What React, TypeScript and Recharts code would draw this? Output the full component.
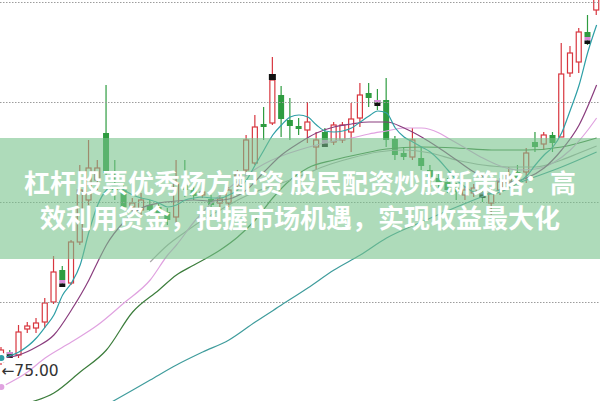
import React from 'react';
import { ComposedChart, Bar, Line, XAxis, YAxis, ReferenceLine, ReferenceDot } from 'recharts';

// daily candles, oldest first
const opens = [75.3, 76.3, 76.0, 78.6, 78.7, 79.3, 81.3, 84.5, 83.2, 87.3, 91.5, 93.5, 98.2, 93.0, 92.5, 90.8, 90.5, 91.0, 90.8, 90.3, 89.8, 93.0, 92.5, 92.0, 91.6, 91.2, 91.2, 93.0, 94.5, 95.2, 99.1, 99.2, 102.0, 99.5, 98.9, 98.5, 96.8, 98.3, 97.3, 97.5, 98.3, 99.7, 102.2, 101.5, 101.5, 97.6, 96.2, 95.8, 95.7, 94.5, 93.7, 93.3, 92.7, 92.0, 92.2, 92.3, 91.2, 92.5, 93.2, 94.3, 94.3, 97.3, 97.1, 98.0, 97.8, 104.2, 105.3, 108.3, 110.5];
const closes = [76.5, 76.0, 78.3, 78.9, 79.2, 81.2, 84.3, 83.5, 87.3, 92.5, 94.7, 94.7, 94.2, 92.5, 90.8, 91.2, 91.5, 90.5, 90.0, 89.5, 93.2, 92.5, 91.9, 92.3, 91.0, 91.6, 92.5, 94.0, 97.5, 98.8, 98.8, 103.5, 99.6, 98.9, 98.6, 99.3, 97.5, 97.5, 99.0, 99.0, 99.6, 102.0, 101.7, 101.1, 97.5, 96.0, 95.8, 97.5, 94.9, 93.8, 93.2, 92.5, 92.3, 92.5, 92.7, 91.7, 92.2, 93.3, 94.0, 93.7, 96.2, 96.8, 98.0, 97.2, 104.1, 106.2, 108.3, 107.8, 112.0];
const highs = [76.8, 76.5, 79.0, 79.3, 79.7, 81.7, 85.9, 84.9, 87.5, 95.0, 97.5, 95.5, 103.0, 95.5, 93.0, 91.7, 92.2, 91.5, 91.2, 90.7, 95.5, 95.5, 93.0, 92.7, 92.0, 92.0, 92.8, 94.5, 98.0, 100.0, 100.8, 105.8, 102.9, 101.7, 99.7, 101.3, 98.3, 98.7, 99.3, 99.3, 101.2, 103.2, 103.2, 102.6, 103.7, 97.9, 96.8, 98.7, 96.8, 95.0, 94.3, 93.7, 93.2, 92.9, 93.1, 92.7, 92.8, 93.7, 94.8, 95.0, 96.7, 98.3, 98.3, 98.3, 107.2, 106.9, 108.7, 110.0, 112.5];
const lows = [75.0, 75.7, 75.7, 78.2, 78.2, 78.7, 81.1, 83.0, 83.0, 87.0, 91.0, 92.5, 93.5, 91.5, 90.5, 90.3, 89.8, 90.0, 89.5, 89.0, 89.2, 91.8, 91.5, 91.7, 90.7, 90.8, 90.8, 92.5, 94.0, 95.0, 97.5, 99.0, 97.8, 97.5, 98.0, 97.2, 94.5, 96.8, 97.0, 97.2, 96.3, 98.8, 100.8, 100.5, 96.8, 95.5, 95.5, 95.5, 94.5, 92.8, 92.5, 92.2, 91.5, 91.5, 91.8, 91.3, 90.0, 92.0, 92.7, 93.2, 93.2, 96.3, 96.5, 96.3, 97.8, 103.8, 104.2, 107.0, 110.0];

// event flags drawn on some candles
const flagsBelow = [7, 37, 67];
const flagsTop = [31];
const flagsBody = [1, 43, 55];

// moving averages, read as [candle index, value]
const ma5: [number, number][] = [[0, 75.7], [2, 76.3], [4, 77.7], [5, 78.8], [6, 80.0], [7, 82.0], [8, 83.2], [9, 85.0], [10, 88.3], [11, 91.0], [12, 92.5], [13, 93.0], [14, 92.5], [15, 92.0], [16, 91.7], [17, 91.5], [18, 91.2], [19, 90.8], [20, 91.0], [21, 91.5], [22, 91.7], [23, 91.8], [24, 91.7], [25, 91.7], [26, 92.0], [27, 92.5], [28, 93.5], [29, 95.0], [30, 96.5], [31, 98.0], [32, 99.0], [33, 99.8], [34, 100.0], [35, 99.8], [36, 99.0], [37, 98.4], [38, 98.3], [39, 98.4], [40, 98.7], [41, 99.3], [42, 99.9], [43, 100.4], [44, 100.2], [45, 98.7], [46, 97.8], [47, 97.3], [48, 96.8], [49, 96.3], [50, 95.5], [51, 94.5], [52, 93.5], [53, 92.8], [54, 92.3], [55, 92.2], [56, 92.1], [57, 92.3], [58, 92.7], [59, 93.2], [60, 93.9], [61, 95.0], [62, 96.0], [63, 96.8], [64, 98.2], [65, 100.5], [66, 103.0], [67, 106.3], [68, 109.0]];
const ma10: [number, number][] = [[0, 75.7], [2, 76.0], [4, 76.8], [6, 78.0], [8, 80.5], [10, 83.5], [11, 85.3], [12, 87.0], [14, 89.3], [16, 90.7], [18, 91.2], [20, 91.4], [22, 91.5], [24, 91.4], [26, 91.6], [28, 92.5], [30, 94.3], [32, 96.0], [34, 97.2], [36, 98.2], [38, 98.8], [40, 99.1], [42, 99.3], [44, 99.3], [46, 98.7], [48, 97.8], [50, 96.7], [52, 95.5], [54, 94.3], [56, 93.5], [58, 93.3], [60, 93.7], [62, 94.7], [64, 96.5], [66, 99.0], [68, 103.0]];
const ma20: [number, number][] = [[0, 72.8], [3, 74.3], [5, 75.7], [8, 77.3], [11, 79.0], [14, 81.2], [17, 83.5], [19, 86.0], [20, 87.0], [22, 89.3], [24, 91.2], [26, 92.7], [28, 94.0], [30, 95.1], [32, 95.9], [34, 96.5], [36, 97.0], [38, 97.4], [40, 97.7], [42, 98.1], [44, 98.4], [46, 98.7], [48, 98.7], [50, 98.2], [51, 97.7], [53, 96.7], [55, 95.7], [57, 94.9], [59, 94.5], [61, 94.6], [63, 95.2], [65, 96.5], [67, 98.5], [68, 99.7]];
const ma30: [number, number][] = [[3, 71.2], [6, 72.2], [9, 74.3], [12, 76.5], [15, 80.3], [18, 82.5], [20, 84.0], [22, 85.0], [25, 86.5], [27, 87.8], [29, 89.5], [31, 91.7], [33, 93.5], [35, 94.7], [38, 95.5], [41, 96.1], [44, 96.6], [48, 96.8], [52, 96.7], [56, 96.5], [60, 96.5], [64, 96.8], [68, 97.7]];
const ma60: [number, number][] = [[17, 85.3], [19, 87.0], [21, 88.3], [23, 89.5], [25, 90.5], [27, 91.5], [29, 92.3], [31, 92.9], [33, 93.5], [35, 94.2], [37, 94.9], [40, 95.7], [43, 96.3], [46, 96.5], [49, 96.2], [52, 95.5], [55, 95.0], [58, 94.8], [61, 94.8], [64, 95.5], [66, 96.2], [68, 96.9]];
const ma120: [number, number][] = [[12, 71.0], [13, 71.5], [17, 73.5], [20, 75.0], [23, 76.3], [26, 77.5], [29, 79.3], [32, 81.0], [35, 82.7], [38, 84.5], [41, 86.0], [44, 87.7], [48, 89.3], [52, 90.8], [56, 92.2], [60, 93.5], [64, 94.8], [68, 96.3]];

const gridLevels = [111.25, 101.25, 91.25, 81.25];
const lowestLabel = '←75.00';
const titleLines = ['杠杆股票优秀杨方配资 股民配资炒股新策略：高', '效利用资金，把握市场机遇，实现收益最大化'];

const RED = '#d8363f';
const GREEN = '#2e9c40';

const rows: any[] = opens.map((o, i) => ({
  i,
  open: o,
  close: closes[i],
  high: highs[i],
  low: lows[i],
  range: [lows[i], highs[i]],
}));

const addSeries = (key: string, pts: [number, number][]) => {
  pts.forEach(([i, v]) => {
    rows[i][key] = v;
  });
};
addSeries('ma5', ma5);
addSeries('ma10', ma10);
addSeries('ma20', ma20);
addSeries('ma30', ma30);
addSeries('ma60', ma60);
addSeries('ma120', ma120);

const Candle = (props: any) => {
  const { x, y, width, height, payload } = props;
  if (!payload || payload.high === payload.low) return null;
  const top = Math.min(y, y + height);
  const h = Math.abs(height);
  const { open, close, high, low, i } = payload;
  const ppu = h / (high - low);
  const py = (v: number) => top + (high - v) * ppu;
  const cx = x + width / 2;
  const up = close >= open;
  const bTop = py(Math.max(open, close));
  const bBot = py(Math.min(open, close));
  const bodyH = Math.max(bBot - bTop, 1);
  const yHigh = py(high);
  const yLow = py(low);

  return (
    <g>
      {up ? (
        <g>
          <line x1={cx} x2={cx} y1={yHigh} y2={bTop} stroke={RED} strokeWidth={1.2} />
          <line x1={cx} x2={cx} y1={bTop + bodyH} y2={yLow} stroke={RED} strokeWidth={1.2} />
          <rect x={cx - 2.5} y={bTop} width={5} height={bodyH} fill="#fff" stroke={RED} strokeWidth={1.2} />
        </g>
      ) : (
        <g>
          <line x1={cx} x2={cx} y1={yHigh} y2={yLow} stroke={GREEN} strokeWidth={1.2} />
          <rect x={cx - 3} y={bTop} width={6} height={bodyH} fill={GREEN} />
        </g>
      )}
      {flagsBelow.includes(i) && (
        <g>
          <rect x={cx - 3} y={bBot} width={6} height={3.5} fill="#d88ad8" />
          <rect x={cx - 3} y={bBot + 3.5} width={6} height={3.5} fill="#111" />
        </g>
      )}
      {flagsTop.includes(i) && <rect x={cx - 3.5} y={bTop - 6} width={7} height={6} fill="#111" />}
      {flagsBody.includes(i) && (
        <g>
          <rect x={cx - 3} y={bTop} width={6} height={2.5} fill="#d88ad8" />
          <rect x={cx - 3} y={bTop + 2.5} width={6} height={3.5} fill="#111" />
        </g>
      )}
    </g>
  );
};

export default function App() {
  return (
    <div style={{ position: 'fixed', left: 0, top: 0, width: 600, height: 401, overflow: 'hidden', background: '#fff' }}>
      <div style={{ position: 'absolute', left: -2.9, top: 0 }}>
        <ComposedChart width={604} height={401} data={rows} margin={{ top: 0, right: 0, bottom: 0, left: 0 }}>
          <XAxis dataKey="i" hide />
          <YAxis hide domain={[71.4, 111.5]} allowDataOverflow />
          {gridLevels.map((g) => (
            <ReferenceLine key={g} y={g} stroke="#9c9c9c" strokeDasharray="1.5 1.5" />
          ))}
          <Bar dataKey="range" barSize={6} shape={<Candle />} isAnimationActive={false} />
          <Line dataKey="ma120" type="monotone" stroke="#3f9c9c" strokeWidth={1.2} dot={false} connectNulls isAnimationActive={false} />
          <Line dataKey="ma30" type="monotone" stroke="#3c7d3c" strokeWidth={1.2} dot={false} connectNulls isAnimationActive={false} />
          <Line dataKey="ma60" type="monotone" stroke="#a9a9a9" strokeWidth={1.2} dot={false} connectNulls isAnimationActive={false} />
          <Line dataKey="ma20" type="monotone" stroke="#e0a2e0" strokeWidth={1.2} dot={false} connectNulls isAnimationActive={false} />
          <Line dataKey="ma10" type="monotone" stroke="#8a3d7e" strokeWidth={1.2} dot={false} connectNulls isAnimationActive={false} />
          <Line dataKey="ma5" type="monotone" stroke="#2e9fa6" strokeWidth={1.2} dot={false} connectNulls isAnimationActive={false} />
          <ReferenceDot
            x={0}
            y={74.5}
            r={0}
            label={{ value: lowestLabel, position: 'right', offset: 0, fill: '#333', fontSize: 15.5, fontFamily: '"DejaVu Sans", sans-serif' }}
          />
        </ComposedChart>
      </div>
      <div
        style={{
          position: 'absolute',
          left: 0,
          top: 138,
          width: 600,
          height: 121,
          background: 'rgba(120,195,140,0.6)',
          color: '#fff',
          fontFamily: '"Noto Sans CJK SC", sans-serif',
          fontWeight: 700,
          fontSize: 26,
          lineHeight: '35px',
          textAlign: 'center',
          paddingTop: 26,
          boxSizing: 'border-box',
        }}
      >
        {titleLines.map((t) => (
          <div key={t} style={{ whiteSpace: 'nowrap' }}>{t}</div>
        ))}
      </div>
    </div>
  );
}
